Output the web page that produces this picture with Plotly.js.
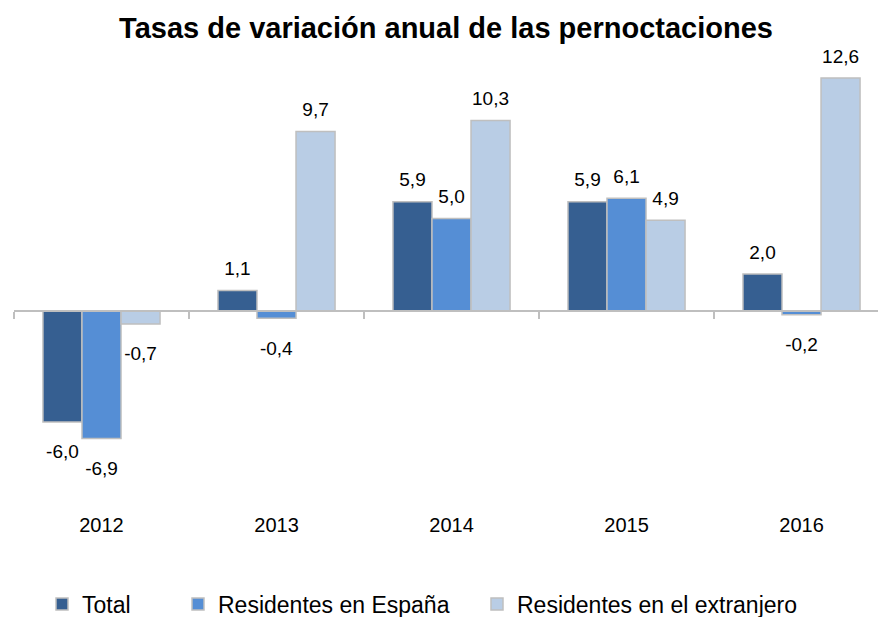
<!DOCTYPE html>
<html><head><meta charset="utf-8">
<script src="https://cdn.plot.ly/plotly-3.0.1.min.js"></script>
<style>body{margin:0;background:#fff}#c{width:878px;height:617px}</style>
</head><body><div id="c"></div>
<script>
const years = ['2012','2013','2014','2015','2016'];
const seriesNames = ['Total','Residentes en España','Residentes en el extranjero'];
const total = [-6.0, 1.1, 5.9, 5.9, 2.0];
const espana = [-6.9, -0.4, 5.0, 6.1, -0.2];
const extranjero = [-0.7, 9.7, 10.3, 4.9, 12.6];
const colors = ['#365f91','#558ed5','#b9cde5'];

const fmt = v => v.toFixed(1).replace('.', ',');
const yMin = -9.14, yMax = 13.57;
const W = 878, H = 617;
const legendTextStart = [82, 218, 517];
const legendIds = ['legend', 'legend2', 'legend3'];
const labelSize = 19;

// a small spacer line pushes each label a little further from the bar end, as in the original
const label = v => {
  const s = '<span style="font-size:' + labelSize + 'px">' + fmt(v) + '</span>';
  return v < 0 ? '<span style="font-size:15px">\u00a0</span><br>' + s
               : s + '<br><span style="font-size:8px">\u00a0</span>';
};

const traces = [total, espana, extranjero].map((vals, i) => ({
  type: 'bar', name: seriesNames[i], x: years, y: vals,
  text: vals.map(label),
  textposition: 'outside', cliponaxis: false, constraintext: 'none',
  textfont: {family: 'Liberation Sans, Arial, sans-serif', size: vals.map(v => v < 0 ? 15 : 8), color: '#000'},
  marker: {color: colors[i], line: {color: '#bfbfbf', width: 1.5}},
  legend: legendIds[i],
  hoverinfo: 'skip'
}));

const legendFont = {family: 'Liberation Sans, Arial, sans-serif', size: 23, color: '#000'};
const mkLegend = i => ({
  orientation: 'h', xref: 'container', yref: 'container',
  x: (legendTextStart[i] - 40) / W, xanchor: 'left',
  y: (H - 604) / H, yanchor: 'middle', font: legendFont, itemwidth: 30, bgcolor: 'rgba(0,0,0,0)'
});

const layout = {
  width: W, height: H,
  margin: {l: 14, r: 0, t: 60, b: 137},
  paper_bgcolor: '#fff', plot_bgcolor: '#fff',
  title: {text: 'Tasas de variación anual de las pernoctaciones', x: 0.508, xanchor: 'center', y: 0.955, yanchor: 'middle',
    font: {family: 'Liberation Sans, Arial, sans-serif', size: 29, weight: 'bold', color: '#000'}},
  barmode: 'group', bargap: 0.331, bargroupgap: 0,
  xaxis: {type: 'category', range: [-0.5, 4.437], anchor: 'free',
    position: (0 - yMin) / (yMax - yMin),
    showline: true, linecolor: '#bfbfbf', linewidth: 2,
    ticks: 'outside', tickson: 'boundaries', ticklen: 7, tickcolor: '#bfbfbf', tickwidth: 2,
    ticklabelstandoff: 196,
    tickfont: {family: 'Liberation Sans, Arial, sans-serif', size: 20, color: '#000'},
    showgrid: false, zeroline: false},
  yaxis: {range: [yMin, yMax], visible: false, showgrid: false, zeroline: false},
  showlegend: true,
  legend: mkLegend(0), legend2: mkLegend(1), legend3: mkLegend(2),
  font: {family: 'Liberation Sans, Arial, sans-serif'}
};

Plotly.newPlot('c', traces, layout, {displayModeBar: false, staticPlot: true});
</script></body></html>
